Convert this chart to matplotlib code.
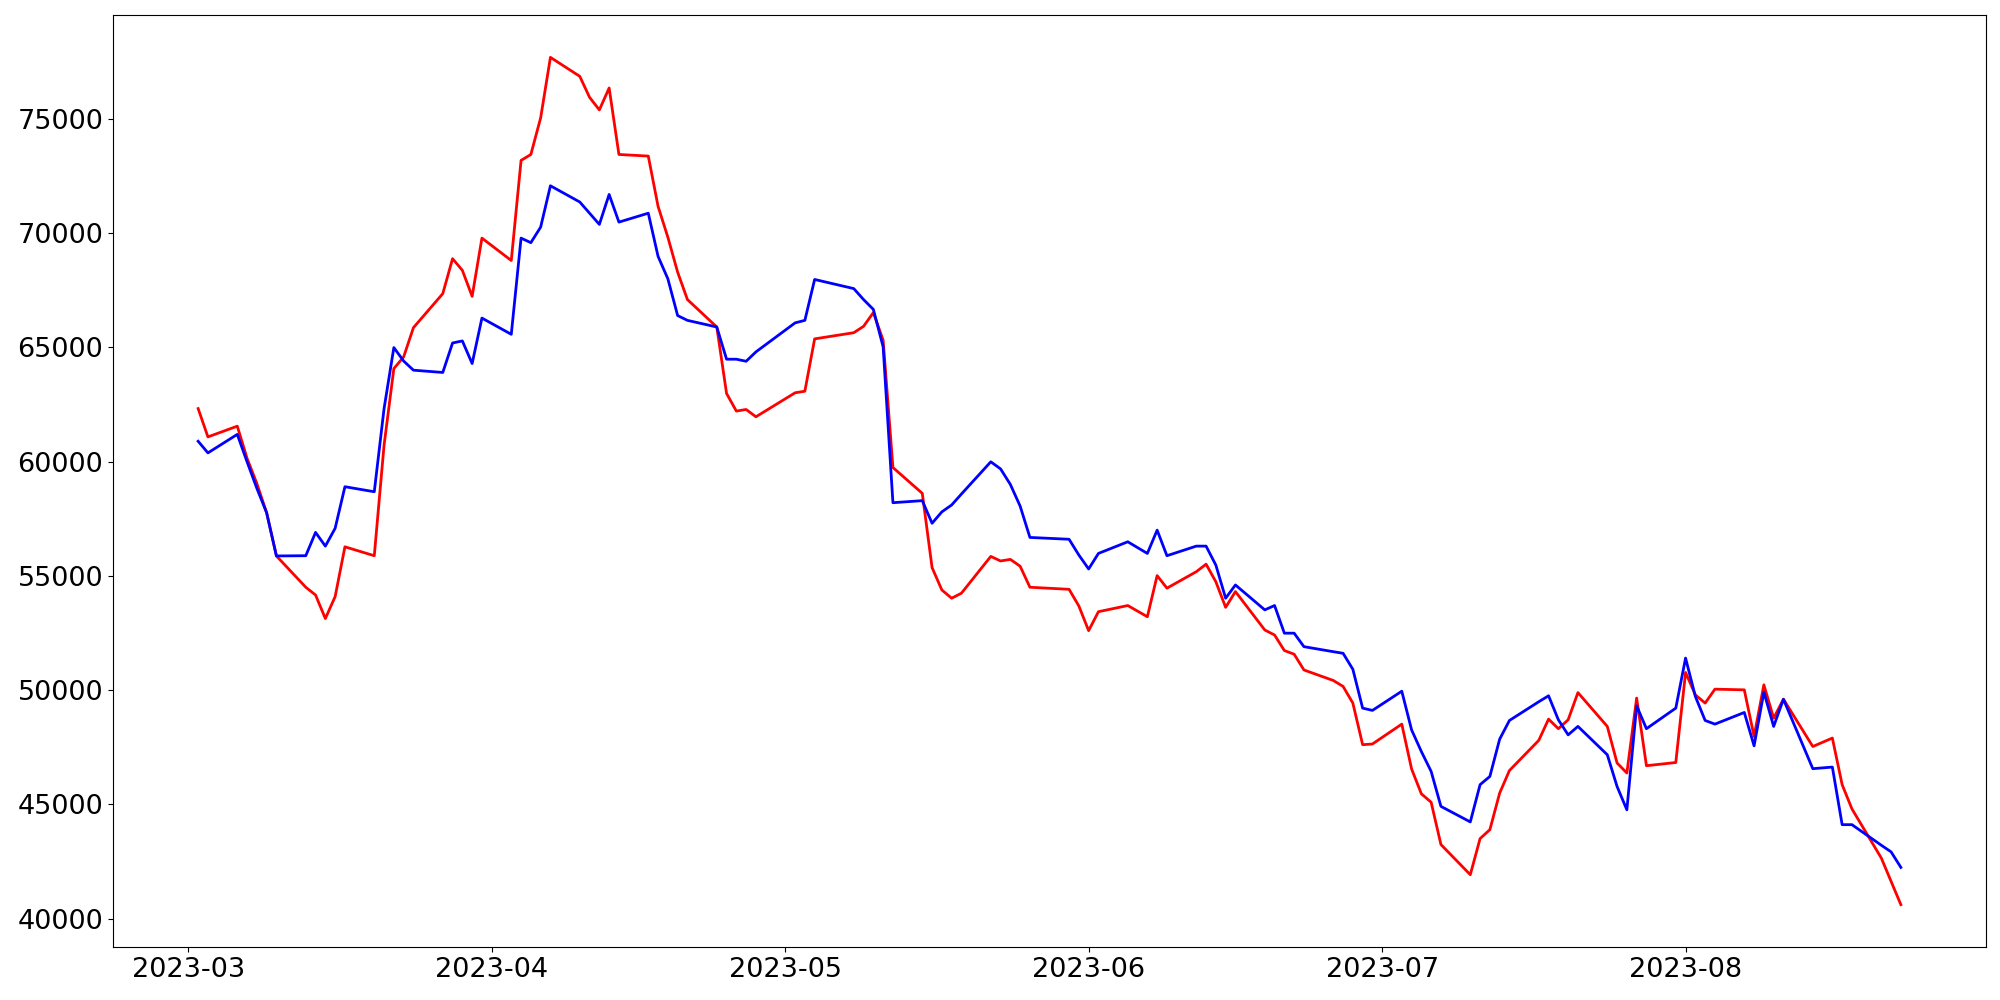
import numpy as np
import pandas as pd
import matplotlib
matplotlib.use('Agg')
import matplotlib.pyplot as plt


# trading days shown in the chart (a few weekdays have no point)
missing_days = ['2023-05-01', '2023-05-05', '2023-05-29', '2023-06-06', '2023-08-15']
dates = pd.bdate_range('2023-03-02', '2023-08-23').drop(pd.to_datetime(missing_days))

red_values = [
    # March
    62320, 61080, 61550, 60140, 59040, 57760, 55870, 54500, 54160, 53130, 54090,
    56270, 55880, 60720, 64070, 64580, 65860, 67350, 68880, 68370, 67230, 69780,
    # April
    68800, 73180, 73440, 75040, 77690, 76860, 75940, 75390, 76350, 73440,
    73370, 71170, 69820, 68290, 67090, 65890, 62980, 62210, 62280, 61960,
    # May
    63010, 63080, 65370, 65640, 65920, 66520, 65310, 59740, 58610, 55360,
    54380, 54020, 54240, 55850, 55650, 55720, 55420, 54500, 54410, 53680,
    # June
    52600, 53430, 53700, 53210, 55010, 54460, 55180, 55510, 54740, 53620, 54310,
    52630, 52410, 51730, 51570, 50880, 50420, 50160, 49430, 47610, 47640,
    # July
    48510, 46550, 45460, 45090, 43240, 41920, 43500, 43890, 45490, 46480, 47800,
    48730, 48310, 48700, 49890, 48410, 46810, 46370, 49650, 46690, 46830,
    # August
    50770, 49790, 49430, 50040, 50010, 47970, 50230, 48770, 49600, 47530,
    47900, 45860, 44800, 42650, 41630, 40610,
]

blue_values = [
    # March
    60890, 60380, 61190, 59990, 58830, 57760, 55870, 55880, 56900, 56300, 57080,
    58900, 58680, 62320, 64990, 64400, 64000, 63900, 65190, 65280, 64290, 66280,
    # April
    65570, 69780, 69580, 70260, 72070, 71360, 70870, 70380, 71690, 70480,
    70870, 68980, 68000, 66390, 66180, 65890, 64480, 64480, 64390, 64800,
    # May
    66070, 66180, 67970, 67570, 67090, 66660, 65020, 58200, 58290, 57300,
    57800, 58100, 58580, 59990, 59680, 59000, 58050, 56680, 56600, 55910,
    # June
    55300, 55980, 56490, 55980, 57000, 55880, 56300, 56300, 55470, 54020, 54600,
    53510, 53700, 52490, 52490, 51900, 51680, 51610, 50910, 49210, 49110,
    # July
    49950, 48260, 47310, 46440, 44910, 44230, 45860, 46220, 47850, 48670, 49490,
    49750, 48700, 48040, 48410, 47170, 45780, 44760, 49310, 48310, 49210,
    # August
    51400, 49720, 48670, 48510, 49020, 47560, 49910, 48410, 49600, 46560,
    46630, 44110, 44110, 43210, 42920, 42240,
]

fig, ax = plt.subplots(figsize=(20, 10), dpi=100)
ax.plot(dates, red_values, color='red', linewidth=2)
ax.plot(dates, blue_values, color='blue', linewidth=2)
ax.tick_params(labelsize=19.5)

fig.subplots_adjust(left=0.0565, right=0.993, bottom=0.053, top=0.985)
fig.savefig('out.png')
